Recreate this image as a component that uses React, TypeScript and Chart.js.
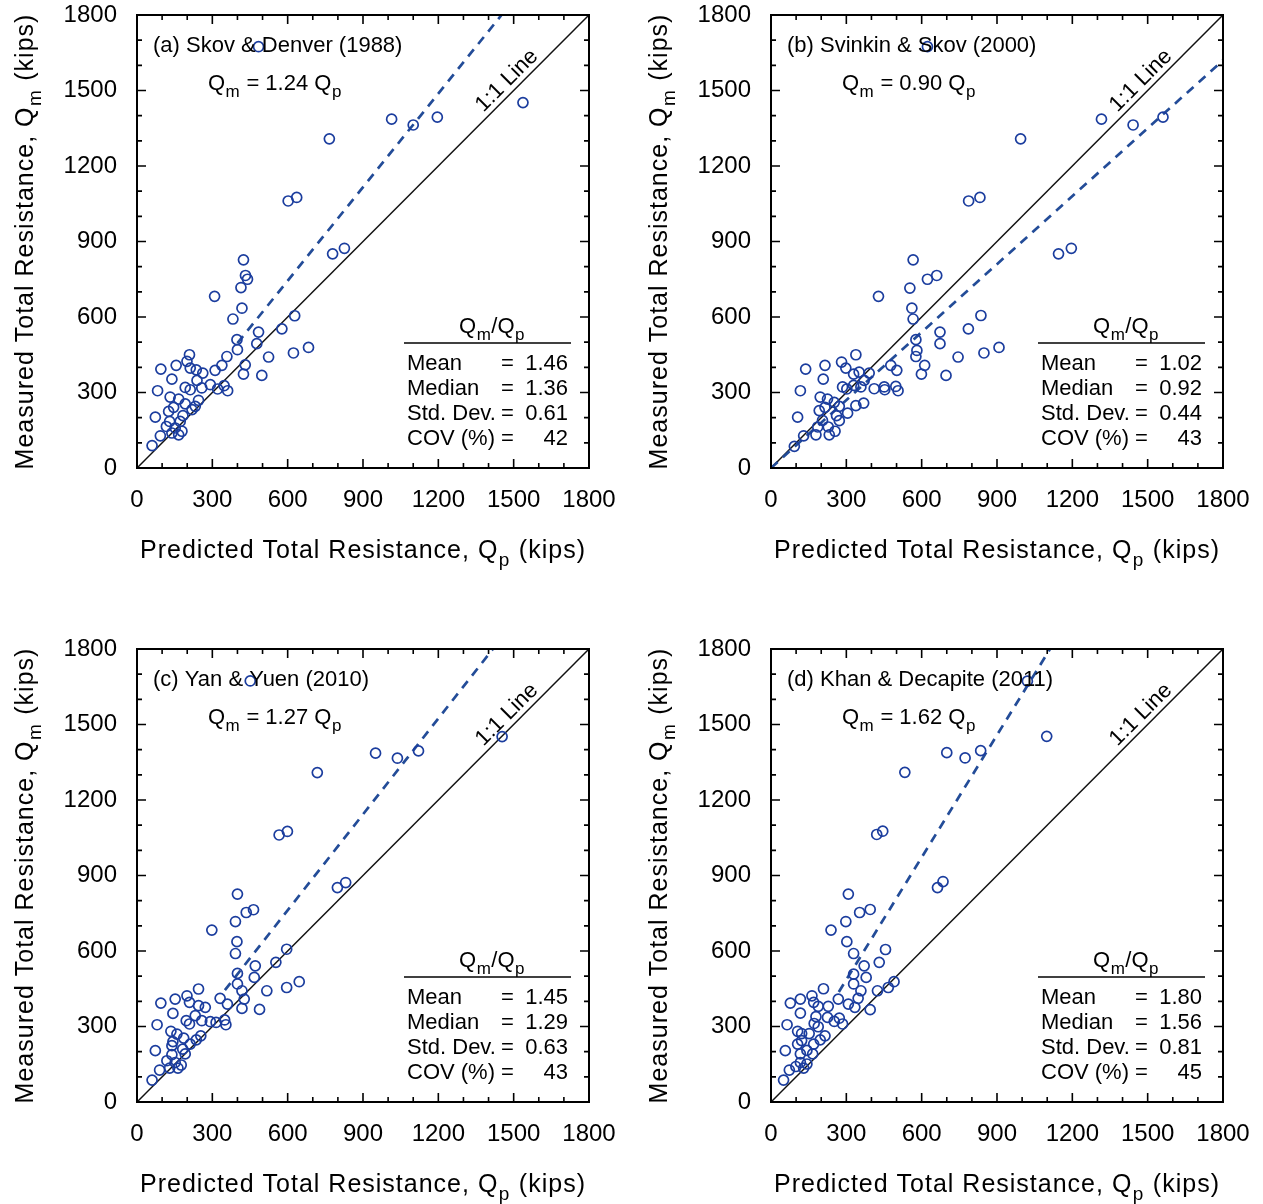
import React, { useEffect, useRef } from "react";
import { Chart, registerables } from "chart.js";

Chart.register(...registerables);

const FONT = "'Liberation Sans', Arial, Helvetica, sans-serif";

// ---------------- data ----------------
const PANEL_TITLES = [
  "(a) Skov & Denver (1988)",
  "(b) Svinkin & Skov (2000)",
  "(c) Yan & Yuen (2010)",
  "(d) Khan & Decapite (2011)",
];
const FIT_SLOPES = [1.24, 0.9, 1.27, 1.62];
const FIT_SLOPE_LABELS = ["1.24", "0.90", "1.27", "1.62"];
const FIT_STARTS = [400, 0, 350, 270];

const STAT_LABELS = ["Mean", "Median", "Std. Dev.", "COV (%)"];
const STATS_A = ["1.46", "1.36", "0.61", "42"];
const STATS_B = ["1.02", "0.92", "0.44", "43"];
const STATS_C = ["1.45", "1.29", "0.63", "43"];
const STATS_D = ["1.80", "1.56", "0.81", "45"];

const TICK_VALUES = [0, 300, 600, 900, 1200, 1500, 1800];
const MINOR_TICK_VALUES = [0, 100, 200, 300, 400, 500, 600, 700, 800, 900, 1000, 1100, 1200, 1300, 1400, 1500, 1600, 1700, 1800];
const AXIS_RANGE = [0, 1800];

// (a) Skov & Denver
const qpA = [484, 1537, 1014, 1100, 1196, 766, 602, 636, 779, 826, 424, 432, 440, 414, 309, 418, 382, 628, 484, 577, 477, 398, 400, 358, 524, 623, 683, 431, 424, 497, 338, 311, 209, 199, 212, 156, 95, 139, 236, 262, 239, 192, 212, 258, 292, 321, 347, 361, 82, 132, 166, 192, 245, 232, 219, 146, 126, 183, 73, 130, 172, 117, 152, 179, 166, 139, 93, 60];
const qmA = [1674, 1452, 1386, 1363, 1394, 1308, 1061, 1075, 851, 873, 827, 765, 750, 717, 682, 635, 592, 605, 540, 553, 494, 510, 470, 443, 441, 457, 479, 410, 373, 368, 408, 388, 450, 424, 397, 408, 393, 353, 390, 377, 348, 320, 311, 318, 331, 314, 327, 307, 307, 282, 274, 255, 269, 245, 232, 241, 225, 208, 202, 185, 185, 165, 159, 146, 132, 139, 128, 89];

// (b) Svinkin & Skov
const qpB = [623, 1316, 1442, 1561, 994, 787, 832, 1145, 1196, 566, 660, 623, 553, 428, 561, 566, 836, 673, 786, 673, 577, 581, 577, 745, 848, 908, 612, 599, 697, 477, 501, 338, 281, 298, 215, 138, 208, 351, 391, 371, 329, 285, 302, 329, 358, 411, 451, 453, 497, 506, 117, 196, 225, 252, 272, 369, 338, 305, 215, 192, 261, 106, 205, 272, 186, 228, 255, 232, 179, 130, 93];
const qmB = [1674, 1386, 1363, 1394, 1308, 1061, 1075, 851, 873, 827, 765, 750, 715, 682, 635, 592, 606, 540, 553, 494, 510, 467, 443, 441, 457, 479, 408, 373, 368, 408, 388, 450, 421, 397, 408, 393, 353, 381, 377, 348, 373, 322, 314, 328, 322, 315, 322, 311, 324, 307, 307, 282, 274, 261, 245, 258, 248, 218, 241, 228, 208, 202, 189, 188, 163, 163, 146, 132, 132, 128, 86];

// (c) Yan & Yuen
const qpC = [451, 1454, 950, 1037, 1121, 718, 566, 599, 798, 831, 400, 435, 464, 392, 298, 398, 392, 596, 471, 553, 467, 400, 400, 418, 517, 596, 646, 427, 418, 488, 331, 360, 245, 199, 209, 152, 95, 143, 245, 272, 232, 196, 209, 258, 292, 315, 349, 354, 80, 135, 159, 186, 254, 236, 212, 143, 139, 182, 73, 139, 192, 119, 152, 176, 163, 130, 90, 60];
const qmC = [1673, 1452, 1386, 1366, 1395, 1309, 1061, 1075, 852, 872, 826, 753, 764, 717, 683, 637, 590, 607, 541, 555, 495, 511, 469, 442, 442, 455, 478, 409, 372, 368, 412, 389, 449, 422, 396, 409, 393, 352, 383, 376, 343, 323, 310, 323, 319, 316, 326, 307, 307, 281, 270, 254, 263, 247, 230, 240, 224, 210, 204, 188, 191, 164, 157, 147, 135, 135, 127, 87];

// (d) Khan & Decapite
const qpD = [1021, 1098, 700, 773, 835, 533, 421, 445, 663, 685, 308, 353, 395, 298, 239, 302, 329, 456, 371, 431, 379, 329, 329, 358, 424, 467, 490, 347, 334, 395, 308, 268, 209, 163, 170, 117, 77, 117, 188, 228, 225, 179, 172, 188, 252, 272, 285, 64, 106, 122, 152, 215, 196, 170, 122, 106, 143, 57, 117, 166, 99, 117, 143, 130, 73, 50];
const qmD = [1672, 1453, 1388, 1367, 1396, 1310, 1063, 1076, 852, 876, 826, 753, 765, 717, 683, 637, 590, 606, 541, 555, 495, 508, 469, 442, 442, 455, 478, 412, 376, 367, 389, 409, 450, 422, 396, 409, 393, 353, 380, 380, 336, 339, 312, 299, 320, 333, 310, 307, 281, 272, 272, 263, 247, 230, 244, 230, 205, 204, 191, 191, 141, 157, 151, 135, 127, 87];

const PANEL_QP = [qpA, qpB, qpC, qpD];
const PANEL_QM = [qmA, qmB, qmC, qmD];
const PANEL_STATS = [STATS_A, STATS_B, STATS_C, STATS_D];

// ---------------- styling ----------------
const CANVAS_W = 629;
const CANVAS_H = 570;
const PANEL_OFFSET = 634;
const POINT_COLOR = "#1b3d9e";
const FIT_COLOR = "#234c98";
const TEXT_COLOR = "#000";

type Seg = { t: string; sub?: boolean };

function segFont(size: number, sub?: boolean) {
  return `${sub ? Math.round(size * 0.75) : size}px ${FONT}`;
}

function richWidth(ctx: CanvasRenderingContext2D, segs: Seg[], size: number) {
  let w = 0;
  for (const s of segs) {
    ctx.font = segFont(size, s.sub);
    w += ctx.measureText(s.t).width + (s.sub ? 1 : 0);
  }
  return w;
}

function drawRich(
  ctx: CanvasRenderingContext2D,
  segs: Seg[],
  x: number,
  y: number,
  size: number,
  align: "left" | "center"
) {
  const total = richWidth(ctx, segs, size);
  let cx = align === "center" ? x - total / 2 : x;
  ctx.textAlign = "left";
  ctx.textBaseline = "alphabetic";
  for (const s of segs) {
    ctx.font = segFont(size, s.sub);
    ctx.fillText(s.t, cx + (s.sub ? 0.5 : 0), s.sub ? y + size * 0.3 : y);
    cx += ctx.measureText(s.t).width + (s.sub ? 1 : 0);
  }
}

const decorPlugin = {
  id: "decor",
  afterDraw(chart: any, _args: any, opts: any) {
    const { ctx, chartArea: a, scales } = chart;
    const i: number = opts.panel;
    ctx.save();

    // frame
    ctx.strokeStyle = "#000";
    ctx.lineWidth = 2;
    ctx.strokeRect(a.left, a.top, a.right - a.left, a.bottom - a.top);

    // inward ticks on all four sides
    ctx.lineWidth = 1.6;
    for (const v of MINOR_TICK_VALUES) {
      const len = TICK_VALUES.includes(v) ? 9 : 5;
      const px = scales.x.getPixelForValue(v);
      const py = scales.y.getPixelForValue(v);
      ctx.beginPath();
      ctx.moveTo(px, a.bottom);
      ctx.lineTo(px, a.bottom - len);
      ctx.moveTo(px, a.top);
      ctx.lineTo(px, a.top + len);
      ctx.moveTo(a.left, py);
      ctx.lineTo(a.left + len, py);
      ctx.moveTo(a.right, py);
      ctx.lineTo(a.right - len, py);
      ctx.stroke();
    }

    ctx.fillStyle = TEXT_COLOR;

    // axis titles
    (ctx as any).letterSpacing = "1px";
    drawRich(
      ctx,
      [{ t: "Predicted Total Resistance, Q" }, { t: "p", sub: true }, { t: " (kips)" }],
      (a.left + a.right) / 2,
      558,
      25,
      "center"
    );
    ctx.save();
    ctx.translate(33, (a.top + a.bottom) / 2);
    ctx.rotate(-Math.PI / 2);
    drawRich(
      ctx,
      [{ t: "Measured Total Resistance, Q" }, { t: "m", sub: true }, { t: " (kips)" }],
      0,
      0,
      25,
      "center"
    );
    ctx.restore();
    (ctx as any).letterSpacing = "0px";

    // panel label
    ctx.font = `22px ${FONT}`;
    ctx.textAlign = "left";
    ctx.textBaseline = "alphabetic";
    ctx.fillText(PANEL_TITLES[i], a.left + 16, a.top + 37);

    // fit equation
    drawRich(
      ctx,
      [
        { t: "Q" },
        { t: "m", sub: true },
        { t: " = " + FIT_SLOPE_LABELS[i] + " Q" },
        { t: "p", sub: true },
      ],
      a.left + 71,
      a.top + 75,
      22,
      "left"
    );

    // 1:1 Line label
    ctx.save();
    ctx.translate(scales.x.getPixelForValue(1473), scales.y.getPixelForValue(1539));
    ctx.rotate(-Math.PI / 4);
    ctx.font = `22px ${FONT}`;
    ctx.textAlign = "center";
    ctx.textBaseline = "middle";
    ctx.fillText("1:1 Line", 0, 0);
    ctx.restore();

    // statistics box
    drawRich(
      ctx,
      [{ t: "Q" }, { t: "m", sub: true }, { t: "/Q" }, { t: "p", sub: true }],
      a.right - 97,
      a.top + 318,
      22,
      "center"
    );
    ctx.strokeStyle = "#000";
    ctx.lineWidth = 1.5;
    ctx.beginPath();
    ctx.moveTo(a.right - 185, a.top + 328);
    ctx.lineTo(a.right - 18, a.top + 328);
    ctx.stroke();

    ctx.font = `22px ${FONT}`;
    ctx.textBaseline = "alphabetic";
    const stats = PANEL_STATS[i];
    STAT_LABELS.forEach((lab, k) => {
      const y = a.top + 355 + k * 25;
      ctx.textAlign = "left";
      ctx.fillText(lab, a.right - 182, y);
      ctx.fillText("=", a.right - 88, y);
      ctx.textAlign = "right";
      ctx.fillText(stats[k], a.right - 21, y);
    });

    ctx.restore();
  },
};

function buildConfig(i: number): any {
  const qp = PANEL_QP[i];
  const qm = PANEL_QM[i];
  const points = qp.map((x, k) => ({ x, y: qm[k] }));
  const slope = FIT_SLOPES[i];
  const fitEnd = Math.min(AXIS_RANGE[1], AXIS_RANGE[1] / slope);
  const fitLine = [
    { x: FIT_STARTS[i], y: FIT_STARTS[i] * slope },
    { x: fitEnd, y: fitEnd * slope },
  ];
  const oneToOne = AXIS_RANGE.map((v) => ({ x: v, y: v }));

  const tickCfg = {
    font: { family: FONT, size: 24 },
    color: TEXT_COLOR,
    autoSkip: false,
    maxRotation: 0,
    callback: (v: number) => String(v),
  };

  return {
    type: "scatter",
    data: {
      datasets: [
        {
          data: points,
          pointStyle: "circle",
          pointRadius: 5,
          pointBorderWidth: 1.7,
          borderColor: POINT_COLOR,
          backgroundColor: "rgba(255,255,255,0)",
          showLine: false,
        },
        {
          data: fitLine,
          showLine: true,
          borderColor: FIT_COLOR,
          borderWidth: 2.7,
          borderDash: [9, 7],
          pointRadius: 0,
          fill: false,
        },
        {
          data: oneToOne,
          showLine: true,
          borderColor: "#111",
          borderWidth: 1.5,
          pointRadius: 0,
          fill: false,
        },
      ],
    },
    options: {
      responsive: false,
      animation: false,
      devicePixelRatio: 1,
      layout: { padding: { left: 0, top: 15, right: CANVAS_W - 589, bottom: 0 } },
      plugins: {
        legend: { display: false },
        tooltip: { enabled: false },
        decor: { panel: i },
      },
      scales: {
        x: {
          type: "linear",
          min: AXIS_RANGE[0],
          max: AXIS_RANGE[1],
          afterBuildTicks: (s: any) => {
            s.ticks = TICK_VALUES.map((v) => ({ value: v }));
          },
          ticks: { ...tickCfg, padding: 18 },
          grid: { display: false, drawTicks: false },
          border: { display: false },
          afterFit: (s: any) => {
            s.height = CANVAS_H - 468;
            s.paddingLeft = 0;
            s.paddingRight = 0;
            s.paddingTop = 0;
            s.paddingBottom = 0;
          },
        },
        y: {
          type: "linear",
          min: AXIS_RANGE[0],
          max: AXIS_RANGE[1],
          afterBuildTicks: (s: any) => {
            s.ticks = TICK_VALUES.map((v) => ({ value: v }));
          },
          ticks: { ...tickCfg, padding: 20 },
          grid: { display: false, drawTicks: false },
          border: { display: false },
          afterFit: (s: any) => {
            s.width = 137;
            s.paddingLeft = 0;
            s.paddingRight = 0;
            s.paddingTop = 0;
            s.paddingBottom = 0;
          },
        },
      },
    },
    plugins: [decorPlugin],
  };
}

function Panel({ index }: { index: number }) {
  const ref = useRef<HTMLCanvasElement>(null);
  useEffect(() => {
    if (!ref.current) return;
    const chart = new Chart(ref.current, buildConfig(index));
    return () => chart.destroy();
  }, [index]);
  const col = index % 2;
  const row = Math.floor(index / 2);
  return (
    <canvas
      ref={ref}
      width={CANVAS_W}
      height={CANVAS_H}
      style={{
        position: "absolute",
        left: col * PANEL_OFFSET,
        top: row * PANEL_OFFSET,
        width: CANVAS_W,
        height: CANVAS_H,
      }}
    />
  );
}

export default function App() {
  return (
    <div
      style={{
        position: "absolute",
        left: 0,
        top: 0,
        width: 1263,
        height: 1204,
        background: "#fff",
        overflow: "hidden",
      }}
    >
      {[0, 1, 2, 3].map((i) => (
        <Panel key={i} index={i} />
      ))}
    </div>
  );
}
